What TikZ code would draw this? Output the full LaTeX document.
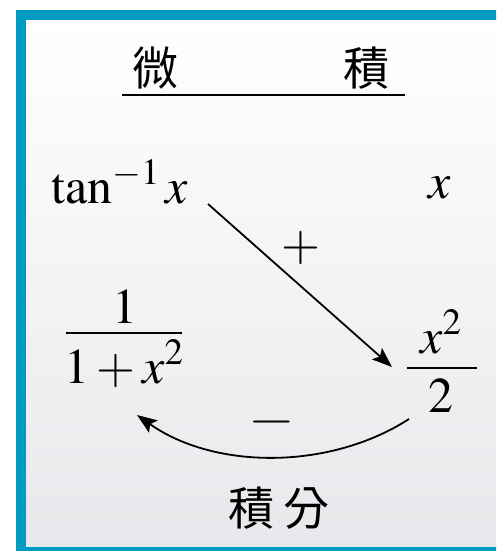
\documentclass[tikz,border=0pt]{standalone}
\usepackage{graphicx}
\usepackage{mathptmx}
\usepackage[no-math]{fontspec}
\newfontfamily\cjk{Noto Sans CJK TC}
\usetikzlibrary{arrows.meta}
\definecolor{frame}{RGB}{0,155,192}
\definecolor{bgbot}{RGB}{231,232,235}
\begin{document}
\begin{tikzpicture}[x=1pt,y=-1pt,
  mathtxt/.style={inner sep=0pt, font=\fontsize{50}{60}\selectfont},
  cjktxt/.style={inner sep=0pt, font=\fontsize{46}{56}\selectfont\cjk},
  conn/.style={line width=1.8pt, -{Stealth[length=20pt,width=15pt,inset=4pt]}},
  rulestyle/.style={line width=1.6pt}]
\useasboundingbox (0,0) rectangle (496,551);
\begin{scope}
\clip (0,0) rectangle (496,551);
\fill[white] (0,0) rectangle (496,551);
\shade[top color=white,bottom color=bgbot] (21,15) rectangle (503,552);
\draw[frame,line width=10pt] (21,15) rectangle (503,552);
\end{scope}
% header
\node[cjktxt] (wei) at (155.5,68) {微};
\node[cjktxt] (ji) at (366.5,68) {積};
\coordinate (ruleL) at (122,95);
\coordinate (ruleR) at (405,95);
\draw[rulestyle] (ruleL) -- (ruleR);
% top row
\node[mathtxt,anchor=base west] (tan) at (51,203) {$\tan^{-1}x$};
\node[mathtxt,anchor=base] (x) at (440,198) {$x$};
\node[mathtxt] (plus) at (301,248) {$+$};
% fraction 1/(1+x^2)
\node[mathtxt,anchor=base] (n1) at (125,323) {$1$};
\coordinate (b1L) at (66,333);
\coordinate (b1R) at (182,333);
\draw[rulestyle] (b1L) -- (b1R);
\node[mathtxt,anchor=base] (d1) at (124,383) {$1+x^2$};
% fraction x^2/2
\node[mathtxt,anchor=base] (n2) at (441,353) {$x^2$};
\coordinate (b2L) at (407,368);
\coordinate (b2R) at (477,368);
\draw[rulestyle] (b2L) -- (b2R);
\node[mathtxt,anchor=base] (d2) at (441,412) {$2$};
% minus and label
\node[mathtxt] (minus) at (271.5,422) {\scalebox{1.2}[1]{$-$}};
\node[cjktxt] (jifen) at (279,508) {積\hspace{10pt}分};
% arrows
\coordinate (a1s) at (208,204);
\coordinate (a1e) at (392,367);
\draw[conn] (a1s) -- (a1e);
\coordinate (a2s) at (409,419);
\coordinate (a2e) at (137,415);
\draw[conn] (a2s) .. controls (330,470) and (215,470) .. (a2e);
\end{tikzpicture}
\end{document}
